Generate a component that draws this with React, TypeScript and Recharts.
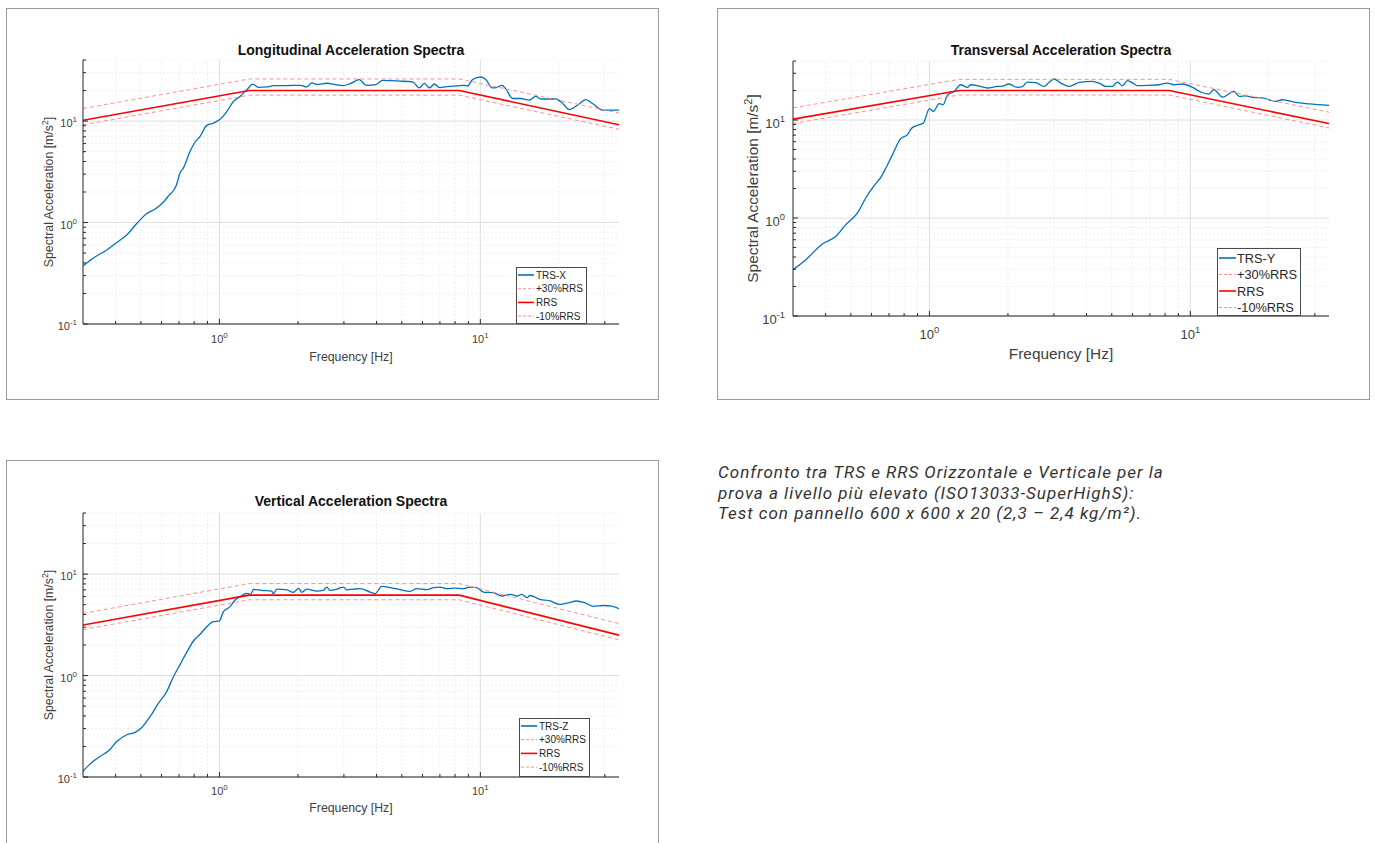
import React from 'react';
import { LineChart, Line, XAxis, YAxis, ReferenceLine, Legend } from 'recharts';

// ---------- axes ----------
const freqDomain: [number, number] = [0.3, 34];
const accDomain: [number, number] = [0.1, 40];
const xMajorTicks = [1, 10];
const xMajorExp = ['0', '1'];
const xMinorTicks = [0.4, 0.5, 0.6, 0.7, 0.8, 0.9, 2, 3, 4, 5, 6, 7, 8, 9, 20, 30];
const yMajorTicks = [0.1, 1, 10];
const yMajorExp = ['-1', '0', '1'];
const yMinorTicks = [0.2, 0.3, 0.4, 0.5, 0.6, 0.7, 0.8, 0.9, 2, 3, 4, 5, 6, 7, 8, 9, 20, 30, 40];

// ---------- series (frequency Hz, acceleration m/s^2) ----------
const trsX: [number, number][] = [
  [0.3, 0.373], [0.329, 0.447], [0.37, 0.536], [0.404, 0.637], [0.442, 0.757], [0.482, 0.977],
  [0.527, 1.225], [0.567, 1.36], [0.601, 1.53], [0.638, 1.83], [0.682, 2.29], [0.707, 3.09],
  [0.728, 3.46], [0.772, 5.04], [0.807, 6.22], [0.843, 7.08], [0.894, 9.07], [0.948, 9.56],
  [1.0, 10.3], [1.067, 12.4], [1.131, 15.6], [1.2, 17.5], [1.273, 20.3], [1.342, 23.1],
  [1.41, 21.5], [1.52, 21.7], [1.61, 22.4], [1.81, 22.4], [2.04, 22.5], [2.16, 21.7],
  [2.26, 23.8], [2.36, 23.0], [2.58, 23.6], [2.82, 22.7], [2.99, 22.4], [3.17, 23.4],
  [3.44, 25.6], [3.65, 22.5], [3.98, 22.9], [4.22, 25.2], [4.9, 24.8], [5.5, 24.3],
  [5.84, 21.2], [6.1, 23.5], [6.38, 21.2], [6.67, 23.2], [6.97, 21.4], [7.6, 22.0],
  [8.07, 22.2], [8.68, 22.5], [8.94, 22.2], [9.34, 25.7], [10.05, 27.2], [10.5, 25.7],
  [11.1, 21.2], [11.5, 21.4], [12.1, 22.5], [12.5, 20.9], [13.3, 16.7], [14.3, 16.7],
  [15.4, 16.1], [16.3, 17.5], [17.1, 16.5], [19.5, 16.5], [20.7, 14.9], [21.9, 13.0],
  [23.6, 14.4], [25.4, 16.3], [26.9, 14.9], [29.4, 12.8], [34, 12.8],
];
const trsY: [number, number][] = [
  [0.3, 0.297], [0.336, 0.376], [0.389, 0.543], [0.438, 0.65], [0.478, 0.855], [0.53, 1.125],
  [0.57, 1.6], [0.614, 2.14], [0.651, 2.6], [0.681, 3.24], [0.722, 4.43], [0.776, 6.45],
  [0.824, 7.08], [0.856, 8.28], [0.9, 8.84], [0.948, 9.31], [1.0, 13.05], [1.036, 12.25],
  [1.089, 14.7], [1.128, 14.3], [1.172, 17.9], [1.243, 19.5], [1.318, 22.9], [1.398, 21.5],
  [1.44, 22.9], [1.55, 22.2], [1.67, 21.2], [1.795, 21.9], [1.905, 22.2], [2.02, 23.3],
  [2.17, 21.5], [2.27, 21.9], [2.37, 24.4], [2.55, 24.1], [2.75, 22.0], [2.87, 24.1],
  [3.0, 26.2], [3.19, 23.8], [3.43, 22.0], [3.75, 24.2], [4.21, 24.8], [4.47, 23.8],
  [4.74, 22.0], [5.02, 22.0], [5.25, 24.4], [5.49, 22.4], [5.74, 25.2], [6.09, 23.3],
  [6.27, 22.4], [6.95, 22.6], [7.59, 22.9], [8.16, 23.8], [8.66, 22.9], [9.32, 23.3],
  [10.2, 21.5], [10.96, 19.3], [11.8, 18.4], [12.3, 20.4], [13.3, 17.1], [14.7, 19.6],
  [15.4, 17.4], [16.3, 17.6], [17.3, 17.0], [18.9, 16.8], [21.2, 15.5], [22.5, 16.1],
  [25.3, 15.1], [28.5, 14.6], [34, 14.1],
];
const trsZ: [number, number][] = [
  [0.3, 0.114], [0.319, 0.134], [0.349, 0.16], [0.376, 0.181], [0.404, 0.224], [0.442, 0.261],
  [0.475, 0.275], [0.504, 0.308], [0.543, 0.395], [0.584, 0.534], [0.625, 0.68], [0.667, 0.977],
  [0.707, 1.29], [0.75, 1.7], [0.795, 2.19], [0.843, 2.55], [0.894, 3.03], [0.948, 3.4],
  [1.0, 3.45], [1.036, 4.27], [1.099, 4.78], [1.148, 5.55], [1.2, 5.98], [1.273, 6.45],
  [1.318, 6.3], [1.35, 7.07], [1.452, 6.9], [1.586, 6.8], [1.61, 6.41], [1.66, 7.1],
  [1.81, 7.0], [1.92, 6.6], [2.01, 7.23], [2.07, 6.6], [2.16, 7.1], [2.36, 6.8],
  [2.5, 6.9], [2.58, 7.45], [2.65, 6.9], [2.82, 7.1], [2.99, 7.45], [3.07, 7.0],
  [3.26, 7.1], [3.46, 7.18], [3.78, 6.65], [3.95, 6.41], [4.19, 7.57], [4.51, 7.35],
  [4.92, 7.02], [5.38, 6.76], [5.7, 7.18], [6.23, 7.02], [6.61, 7.35], [7.01, 7.45],
  [7.43, 7.18], [8.0, 7.26], [8.61, 7.18], [9.13, 7.45], [9.68, 7.35], [10.27, 6.65],
  [11.2, 6.56], [12.1, 6.08], [13.0, 6.3], [13.8, 6.08], [14.4, 6.3], [15.1, 5.86],
  [15.5, 6.15], [16.9, 5.64], [18.5, 5.43], [20.2, 5.03], [21.7, 5.2], [23.4, 5.43],
  [25.2, 5.2], [27.1, 4.81], [29.6, 4.9], [31.8, 4.84], [34, 4.57],
];

const rrsH: [number, number][] = [[0.3, 10.2], [1.3, 20], [8.3, 20], [34, 9.2]];
const rrsHUp: [number, number][] = [[0.3, 13.3], [1.3, 26], [8.3, 26], [34, 12.0]];
const rrsHLow: [number, number][] = [[0.3, 9.2], [1.3, 18], [8.3, 18], [34, 8.3]];
const rrsV: [number, number][] = [[0.3, 3.15], [1.3, 6.2], [8.3, 6.2], [34, 2.5]];
const rrsVUp: [number, number][] = [[0.3, 4.1], [1.3, 8.06], [8.3, 8.06], [34, 3.25]];
const rrsVLow: [number, number][] = [[0.3, 2.84], [1.3, 5.58], [8.3, 5.58], [34, 2.25]];

const legendNames = ['+30%RRS', 'RRS', '-10%RRS'];

const toRows = (pts: [number, number][]) => pts.map(([f, v]) => ({ f, v }));

// ---------- styles ----------
const FONT = '"Liberation Sans", Arial, Helvetica, sans-serif';
const AXIS = '#262626';
const TXT = '#404040';
const BLUE = '#0072BD';
const RED = '#ff0000';
const LRED = '#ff8f8f';

type Cfg = {
  boxLeft: number; boxTop: number; boxW: number; boxH: number; bottomBorder: boolean;
  margin: { top: number; right: number; bottom: number; left: number };
  title: string; titleY: number; titleSize: number;
  labelSize: number; tickSize: number;
  xLabelY: number; xTickDy: number; yLabelX: number; yTickDx: number; yTickDy: number;
  legend: { left: number; top: number; w: number; h: number; row0: number; rowH: number; fs: number; sampleW: number; textX: number };
  trsName: string;
  trs: [number, number][]; rrs: [number, number][]; up: [number, number][]; low: [number, number][];
};

const YAXIS_W = 60;
const XAXIS_H = 40;

function SpectraChart({ cfg }: { cfg: Cfg }) {
  const innerW = cfg.boxW - 2;
  const innerH = cfg.boxH - (cfg.bottomBorder ? 2 : 1);
  const plotL = cfg.margin.left + YAXIS_W;
  const plotR = innerW - cfg.margin.right;
  const plotT = cfg.margin.top;
  const plotB = innerH - cfg.margin.bottom - XAXIS_H;
  const cx = (plotL + plotR) / 2;
  const cy = (plotT + plotB) / 2;
  const fs = cfg.tickSize;

  const xTick = (p: any) => {
    const { x, y, payload } = p;
    const v = payload.value;
    const mi = xMajorTicks.indexOf(v);
    const major = mi >= 0;
    return (
      <g>
        <line x1={x} x2={x} y1={y} y2={y - (major ? 5 : 3)} stroke={AXIS} strokeWidth={1} />
        {major && (
          <text x={x} y={y + cfg.xTickDy} textAnchor="middle" fontSize={fs} fill={TXT} fontFamily={FONT}>
            10<tspan dy={-fs * 0.45} fontSize={fs * 0.72}>{xMajorExp[mi]}</tspan>
          </text>
        )}
      </g>
    );
  };
  const yTick = (p: any) => {
    const { x, y, payload } = p;
    const v = payload.value;
    const mi = yMajorTicks.indexOf(v);
    const major = mi >= 0;
    return (
      <g>
        <line x1={x} x2={x + (major ? 5 : 3)} y1={y} y2={y} stroke={AXIS} strokeWidth={1} />
        {major && (
          <text x={x - cfg.yTickDx} y={y + cfg.yTickDy} textAnchor="end" fontSize={fs} fill={TXT} fontFamily={FONT}>
            10<tspan dy={-fs * 0.45} fontSize={fs * 0.72}>{yMajorExp[mi]}</tspan>
          </text>
        )}
      </g>
    );
  };

  const xLabel = () => (
    <g>
      <text x={cx} y={cfg.titleY} textAnchor="middle" fontSize={cfg.titleSize} fontWeight="bold" fill="#111" fontFamily={FONT}>
        {cfg.title}
      </text>
      <text x={cx} y={cfg.xLabelY} textAnchor="middle" fontSize={cfg.labelSize} fill={TXT} fontFamily={FONT}>
        Frequency [Hz]
      </text>
    </g>
  );
  const yLabel = () => (
    <text
      x={cfg.yLabelX}
      y={cy}
      transform={`rotate(-90 ${cfg.yLabelX} ${cy})`}
      textAnchor="middle"
      fontSize={cfg.labelSize}
      fill={TXT}
      fontFamily={FONT}
    >
      Spectral Acceleration [m/s
      <tspan dy={-cfg.labelSize * 0.42} fontSize={cfg.labelSize * 0.72}>2</tspan>
      <tspan dy={cfg.labelSize * 0.42}>]</tspan>
    </text>
  );

  const lg = cfg.legend;
  const legendContent = () => {
    const items = [
      { name: cfg.trsName, color: BLUE, dash: undefined as string | undefined, w: 1.6 },
      { name: legendNames[0], color: LRED, dash: '3 2', w: 1 },
      { name: legendNames[1], color: RED, dash: undefined, w: 1.6 },
      { name: legendNames[2], color: LRED, dash: '3 2', w: 1 },
    ];
    return (
      <div
        style={{
          width: lg.w, height: lg.h, boxSizing: 'border-box', border: '1px solid #4a4a4a',
          background: '#fff', position: 'relative',
        }}
      >
        <svg width={lg.w - 2} height={lg.h - 2} style={{ position: 'absolute', left: 0, top: 0 }}>
          {items.map((it, i) => {
            const yy = lg.row0 + i * lg.rowH - 1;
            return (
              <g key={i}>
                <line x1={1} x2={1 + lg.sampleW} y1={yy} y2={yy} stroke={it.color} strokeWidth={it.w} strokeDasharray={it.dash} />
                <text x={lg.textX} y={yy + lg.fs * 0.36} fontSize={lg.fs} fill="#262626" fontFamily={FONT}>
                  {it.name}
                </text>
              </g>
            );
          })}
        </svg>
      </div>
    );
  };

  return (
    <div
      style={{
        position: 'absolute', left: cfg.boxLeft, top: cfg.boxTop, width: cfg.boxW, height: cfg.boxH,
        boxSizing: 'border-box', border: '1px solid #9a9a9a', borderBottom: cfg.bottomBorder ? '1px solid #9a9a9a' : 'none',
        background: '#fff',
      }}
    >
      <LineChart width={innerW} height={innerH} margin={cfg.margin}>
        {xMinorTicks.map((v) => (
          <ReferenceLine key={'xm' + v} x={v} stroke="#efefef" strokeDasharray="2 2" strokeWidth={1} />
        ))}
        {yMinorTicks.map((v) => (
          <ReferenceLine key={'ym' + v} y={v} stroke="#efefef" strokeDasharray="2 2" strokeWidth={1} />
        ))}
        {xMajorTicks.map((v) => (
          <ReferenceLine key={'xM' + v} x={v} stroke="#dedede" strokeWidth={1} />
        ))}
        {yMajorTicks.map((v) => (
          <ReferenceLine key={'yM' + v} y={v} stroke="#dedede" strokeWidth={1} />
        ))}
        <XAxis
          type="number"
          dataKey="f"
          scale="log"
          domain={freqDomain}
          allowDataOverflow
          ticks={[...xMinorTicks, ...xMajorTicks].sort((a, b) => a - b)}
          interval={0}
          tickSize={0}
          tickMargin={0}
          tickLine={false}
          tick={xTick}
          height={XAXIS_H}
          axisLine={{ stroke: AXIS, strokeWidth: 1 }}
          label={{ content: xLabel }}
        />
        <YAxis
          type="number"
          dataKey="v"
          scale="log"
          domain={accDomain}
          allowDataOverflow
          ticks={[...yMinorTicks, ...yMajorTicks].sort((a, b) => a - b)}
          interval={0}
          tickSize={0}
          tickMargin={0}
          tickLine={false}
          tick={yTick}
          width={YAXIS_W}
          axisLine={{ stroke: AXIS, strokeWidth: 1 }}
          label={{ content: yLabel }}
        />
        <Legend
          layout="vertical"
          align="center"
          verticalAlign="middle"
          wrapperStyle={{ left: lg.left, top: lg.top, width: lg.w, height: lg.h }}
          content={legendContent}
        />
        <Line data={toRows(cfg.trs)} dataKey="v" type="monotone" stroke={BLUE} strokeWidth={1.3} dot={false} activeDot={false} isAnimationActive={false} />
        <Line data={toRows(cfg.up)} dataKey="v" type="linear" stroke={LRED} strokeWidth={1} strokeDasharray="4 3" dot={false} activeDot={false} isAnimationActive={false} />
        <Line data={toRows(cfg.rrs)} dataKey="v" type="linear" stroke={RED} strokeWidth={1.6} dot={false} activeDot={false} isAnimationActive={false} />
        <Line data={toRows(cfg.low)} dataKey="v" type="linear" stroke={LRED} strokeWidth={1} strokeDasharray="4 3" dot={false} activeDot={false} isAnimationActive={false} />
      </LineChart>
    </div>
  );
}

const smallLegend = { w: 71, h: 57, row0: 8, rowH: 13.7, fs: 10, sampleW: 16, textX: 19 };

const chart1: Cfg = {
  boxLeft: 6, boxTop: 8, boxW: 653, boxH: 392, bottomBorder: true,
  margin: { top: 51, right: 39, bottom: 35, left: 16 },
  title: 'Longitudinal Acceleration Spectra', titleY: 46, titleSize: 14,
  labelSize: 12.3, tickSize: 11,
  xLabelY: 352, xTickDy: 19, yLabelX: 46, yTickDx: 6, yTickDy: 6,
  legend: { left: 509, top: 258, ...smallLegend },
  trsName: 'TRS-X', trs: trsX, rrs: rrsH, up: rrsHUp, low: rrsHLow,
};
const chart2: Cfg = {
  boxLeft: 717, boxTop: 8, boxW: 653, boxH: 392, bottomBorder: true,
  margin: { top: 52, right: 40, bottom: 43, left: 15 },
  title: 'Transversal Acceleration Spectra', titleY: 46, titleSize: 14,
  labelSize: 15.4, tickSize: 13,
  xLabelY: 350, xTickDy: 23, yLabelX: 40, yTickDx: 8, yTickDy: 7.5,
  legend: { left: 499, top: 239, w: 84, h: 68, row0: 10, rowH: 16.5, fs: 12.8, sampleW: 17, textX: 19 },
  trsName: 'TRS-Y', trs: trsY, rrs: rrsH, up: rrsHUp, low: rrsHLow,
};
const chart3: Cfg = {
  boxLeft: 6, boxTop: 460, boxW: 653, boxH: 383, bottomBorder: false,
  margin: { top: 52, right: 39, bottom: 26, left: 16 },
  title: 'Vertical Acceleration Spectra', titleY: 45, titleSize: 14,
  labelSize: 12.3, tickSize: 11,
  xLabelY: 351, xTickDy: 18, yLabelX: 46, yTickDx: 6, yTickDy: 6,
  legend: { left: 512, top: 257, ...smallLegend, h: 59 },
  trsName: 'TRS-Z', trs: trsZ, rrs: rrsV, up: rrsVUp, low: rrsVLow,
};

const captionLines = [
  'Confronto tra TRS e RRS Orizzontale e Verticale per la',
  'prova a livello più elevato (ISO13033-SuperHighS):',
  'Test con pannello 600 x 600 x 20 (2,3 – 2,4 kg/m²).',
];

export default function App() {
  return (
    <div style={{ position: 'absolute', left: 0, top: 0, width: 1375, height: 843, overflow: 'hidden', background: '#fff', fontFamily: FONT }}>
      <SpectraChart cfg={chart1} />
      <SpectraChart cfg={chart2} />
      <SpectraChart cfg={chart3} />
      <div
        style={{
          position: 'absolute', left: 718, top: 462, fontFamily: 'Roboto, "Open Sans", sans-serif',
          fontStyle: 'italic', fontSize: 17, letterSpacing: '1px', lineHeight: '20.7px', color: '#333', whiteSpace: 'nowrap',
        }}
      >
        {captionLines.map((l, i) => (
          <div key={i}>{l}</div>
        ))}
      </div>
    </div>
  );
}
